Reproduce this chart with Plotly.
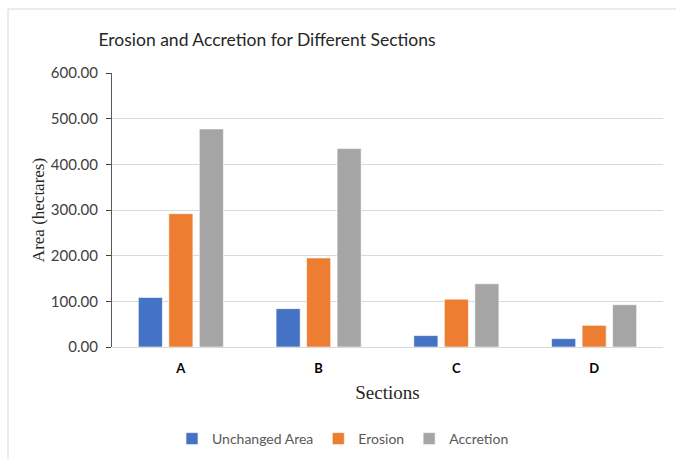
import plotly.graph_objects as go

# Areas per coastal section (hectares)
sections = ["A", "B", "C", "D"]
unchanged_area = [108.5, 84.0, 25.0, 18.3]
erosion = [292.0, 195.0, 104.8, 47.4]
accretion = [477.5, 434.5, 138.4, 92.6]

series = [
    ("Unchanged Area", unchanged_area, "#4472C4"),
    ("Erosion", erosion, "#ED7D31"),
    ("Accretion", accretion, "#A5A5A5"),
]

W, H = 676, 459
L, R, T, B = 112, 13, 73, 112

fig = go.Figure()
for name, vals, color in series:
    fig.add_trace(go.Bar(
        x=sections, y=vals, name=name,
        marker=dict(color=color, line=dict(color="rgba(255,255,255,0.6)", width=1)),
    ))

sans = "Lato, 'Open Sans', sans-serif"
serif = "'Liberation Serif', 'Times New Roman', serif"

pw, ph = W - L - R, H - T - B

fig.update_layout(
    width=W, height=H,
    margin=dict(l=L, r=R, t=T, b=B, autoexpand=False),
    paper_bgcolor="white", plot_bgcolor="white",
    barmode="group", bargap=0.336, bargroupgap=0.21,
    font=dict(family=sans, color="#595959"),
    title=dict(
        text="Erosion and Accretion for Different Sections",
        font=dict(family=sans, size=17.5, color="#262626"),
        x=(267 / W), xanchor="center", y=1 - 40 / H, yanchor="middle",
    ),
    xaxis=dict(
        showgrid=False, showline=False, ticks="",
        tickfont=dict(family=sans, size=13, color="#000000", weight="bold"),
        ticklabelstandoff=12,
        title=dict(text="Sections", font=dict(family=serif, size=19, color="#262626"), standoff=10),
    ),
    yaxis=dict(
        range=[0, 600], dtick=100, tickformat=".2f",
        showgrid=True, gridcolor="#D9D9D9", gridwidth=1,
        zeroline=True, zerolinecolor="#D9D9D9", zerolinewidth=1,
        showline=True, linecolor="#595959", linewidth=1.3,
        ticks="outside", ticklen=5, tickcolor="#404040", tickwidth=1,
        tickfont=dict(family=sans, size=15, color="#404040"),
        ticklabelstandoff=5,
        title=dict(text="Area (hectares)", font=dict(family=serif, size=17, color="#262626"), standoff=1),
    ),
    yaxis2=dict(
        range=[0, 600], dtick=100, overlaying="y", anchor="x", side="left",
        showgrid=False, zeroline=False, showticklabels=False,
        ticks="inside", ticklen=5, tickcolor="#404040", tickwidth=1,
    ),
    legend=dict(
        orientation="h", x=(343 - L) / pw, xanchor="center",
        y=(H - B - 439) / ph, yanchor="middle",
        font=dict(family=sans, size=14, color="#595959"),
        itemwidth=30, traceorder="normal",
    ),
    showlegend=True,
)

# light chart border (top and left edges visible)
fig.add_shape(
    type="rect", xref="paper", yref="paper",
    x0=(8 - L) / pw, x1=(W + 20 - L) / pw,
    y0=(H - B - (H + 20)) / ph, y1=(H - B - 9) / ph,
    line=dict(color="#D9D9D9", width=1), fillcolor="rgba(0,0,0,0)", layer="below",
)

fig.write_html("out.html")
